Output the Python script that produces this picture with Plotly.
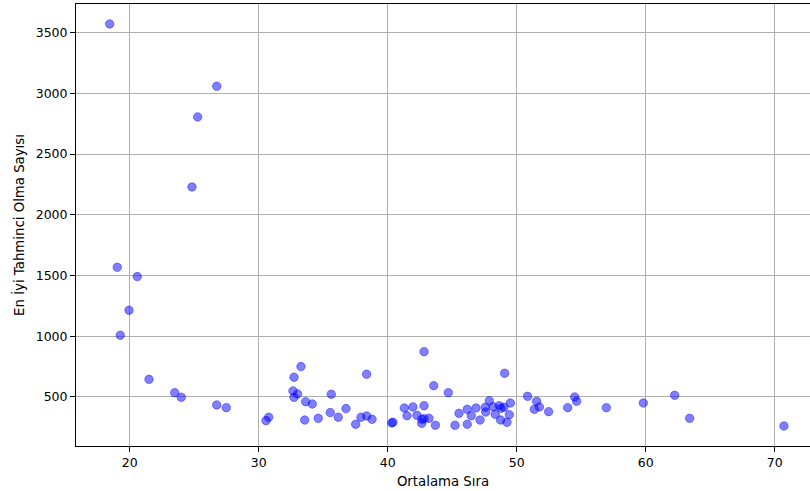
import plotly.graph_objects as go

ortalama_sira = [
    18.44, 26.74, 25.26, 24.82,
    19.03, 20.58, 19.94, 19.26, 21.49, 23.48, 23.99, 26.74, 27.48, 30.56, 30.77,
    33.27, 32.73, 38.36, 32.65, 33.01, 32.73, 33.63, 34.15, 35.62, 33.56, 34.61,
    35.54, 36.16, 36.76, 37.51, 37.92, 38.36, 38.78, 40.30, 40.40,
    42.81, 43.56, 44.69, 41.28, 41.95, 42.81, 41.49, 42.26, 42.63, 42.63, 42.81,
    43.19, 43.69, 45.21, 45.52, 46.16, 46.16, 46.47, 46.84, 47.15, 47.56, 47.59,
    47.87, 48.16, 48.33, 48.64, 48.78, 48.75, 49.00, 49.06, 49.24, 49.42, 49.50,
    50.84, 51.36, 51.54, 51.75, 52.47, 53.95, 54.49, 54.64, 56.94, 59.81, 62.24,
    63.40, 70.71,
]
en_iyi_sayisi = [
    3572, 3059, 2806, 2229,
    1568, 1491, 1214, 1008, 645, 535, 497, 434, 412, 305, 333,
    750, 662, 687, 549, 525, 497, 461, 442, 522, 310, 324,
    371, 333, 404, 275, 333, 343, 316, 286, 291,
    873, 593, 535, 409, 418, 428, 346, 349, 316, 283, 321,
    324, 267, 267, 365, 275, 398, 346, 409, 310, 415, 376,
    469, 420, 357, 428, 407, 310, 415, 695, 291, 354, 450,
    505, 398, 464, 417, 379, 412, 500, 464, 412, 450, 514,
    324, 261,
]

fig = go.Figure(go.Scatter(
    x=ortalama_sira, y=en_iyi_sayisi, mode="markers",
    marker=dict(size=8.5, color="rgba(0,0,255,0.5)",
                line=dict(width=0.8, color="rgba(0,0,255,0.5)")),
    showlegend=False,
))

font = dict(family="DejaVu Sans", size=12.5, color="black")
title_font = dict(family="DejaVu Sans", size=13.3, color="black")
fig.update_layout(
    width=810, height=491,
    margin=dict(l=76, r=0, t=4, b=45),
    paper_bgcolor="white", plot_bgcolor="white",
    font=font,
    xaxis=dict(
        range=[15.83, 72.73], tickvals=[20, 30, 40, 50, 60, 70],
        showgrid=True, gridcolor="#b0b0b0", gridwidth=1,
        showline=True, linecolor="black", linewidth=1, mirror=True,
        ticks="outside", ticklen=5, tickcolor="black", zeroline=False,
        title=dict(text="Ortalama Sıra", standoff=7, font=title_font),
    ),
    yaxis=dict(
        range=[96, 3736], tickvals=[500, 1000, 1500, 2000, 2500, 3000, 3500],
        showgrid=True, gridcolor="#b0b0b0", gridwidth=1,
        showline=True, linecolor="black", linewidth=1,
        ticks="outside", ticklen=5, tickcolor="black", zeroline=False,
        title=dict(text="En İyi Tahminci Olma Sayısı", standoff=8, font=title_font),
    ),
)
fig.write_html("out.html")
